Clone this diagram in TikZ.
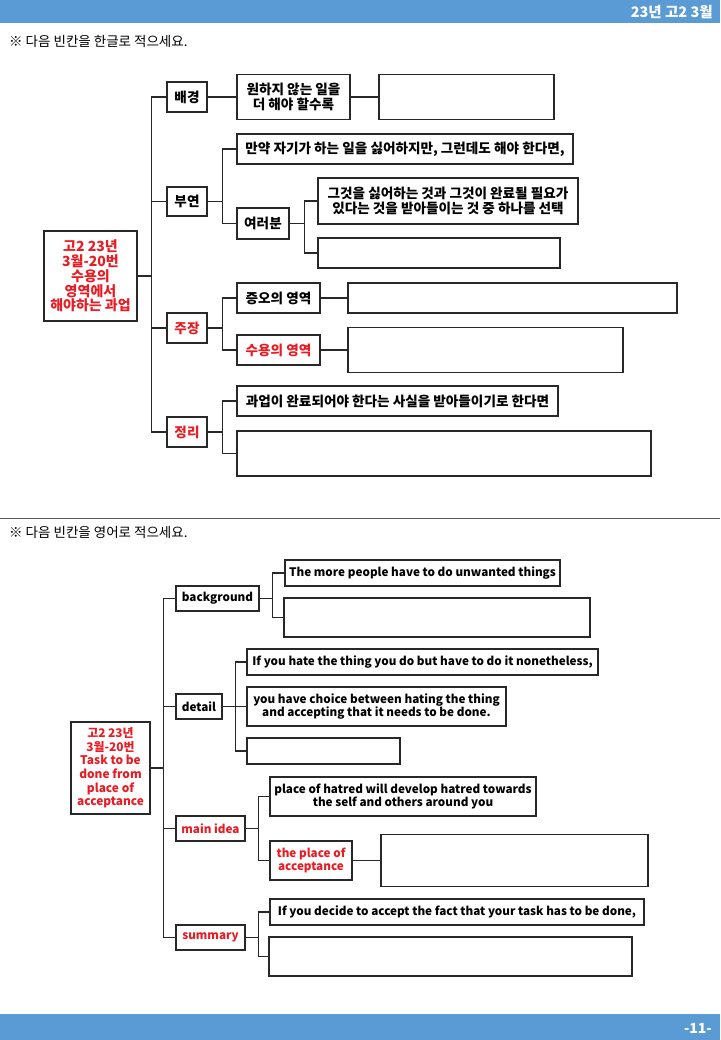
\documentclass[tikz,border=0pt]{standalone}
\usepackage{fontspec}
\setmainfont{Noto Sans CJK KR}
\definecolor{hdr}{RGB}{91,155,213}
\definecolor{myred}{RGB}{232,28,36}
\definecolor{lc}{RGB}{40,40,40}
\tikzset{
  bx/.style={draw=lc, line width=1.3pt, rectangle, inner sep=0pt, align=center},
  ktx/.style={font=\bfseries\fontsize{13.6}{15.5}\selectfont},
  etx/.style={font=\bfseries\fontsize{11.7}{13.5}\selectfont},
  ln/.style={draw=lc, line width=1.3pt},
  red/.style={text=myred}
}
\begin{document}
\begin{tikzpicture}[x=1pt,y=-1pt]
\useasboundingbox (0,0) rectangle (720,1040);
% header / footer
\fill[hdr] (0,0) rectangle (720,23);
\node[anchor=east, text=white, font=\bfseries\fontsize{14.5}{14.5}\selectfont, inner sep=0pt] (hd) at (713,12) {23년 고2 3월};
\fill[hdr] (0,1014) rectangle (720,1040);
\node[anchor=east, text=white, font=\bfseries\fontsize{14}{14}\selectfont, inner sep=0pt] (ft) at (712,1028) {-11-};
\node[anchor=west, inner sep=0pt, font=\fontsize{13.5}{14}\selectfont] (ins1) at (9,41) {※ 다음 빈칸을 한글로 적으세요.};
\draw[gray!70!black, line width=1pt] (0,518) -- (720,518);
\node[anchor=west, inner sep=0pt, font=\fontsize{13.5}{14}\selectfont] (ins2) at (9,532) {※ 다음 빈칸을 영어로 적으세요.};

% ===== top diagram =====
\begin{scope}[ktx]
\node[bx, red, minimum width=93, minimum height=90, font=\bfseries\fontsize{14}{14.8}\selectfont] (r1) at (90.5,276) {고2 23년\\3월-20번\\수용의\\영역에서\\해야하는 과업};
\node[bx, minimum width=40, minimum height=30] (bg) at (187,97) {배경};
\node[bx, minimum width=40, minimum height=29] (bu) at (187,201.5) {부연};
\node[bx, red, minimum width=40, minimum height=30] (ju) at (187,328) {주장};
\node[bx, red, minimum width=40, minimum height=30] (jr) at (187,432) {정리};
\node[bx, minimum width=113, minimum height=45] (wh) at (293.5,97) {원하지 않는 일을\\더 해야 할수록};
\node[bx, minimum width=175, minimum height=45] (whb) at (466.5,97) {};
\node[bx, minimum width=336, minimum height=30] (man) at (405,149) {만약 자기가 하는 일을 싫어하지만, 그런데도 해야 한다면,};
\node[bx, minimum width=52, minimum height=31] (yr) at (263,223.5) {여러분};
\node[bx, minimum width=260, minimum height=46] (gg) at (448,201) {그것을 싫어하는 것과 그것이 완료될 필요가\\있다는 것을 받아들이는 것 중 하나를 선택};
\node[bx, minimum width=242, minimum height=30] (ggb) at (439,253) {};
\node[bx, minimum width=83, minimum height=30] (jo) at (278.5,298) {증오의 영역};
\node[bx, minimum width=329, minimum height=30] (job) at (512.5,298) {};
\node[bx, red, minimum width=83, minimum height=30] (su) at (278.5,350) {수용의 영역};
\node[bx, minimum width=275, minimum height=45] (sub) at (485.5,350) {};
\node[bx, minimum width=321, minimum height=30] (gw) at (397.5,401) {과업이 완료되어야 한다는 사실을 받아들이기로 한다면};
\node[bx, minimum width=414, minimum height=45] (gwb) at (444,453.5) {};
\end{scope}
\foreach \c in {bg,bu,ju,jr} \draw[ln] (r1.east) -- ++(14,0) |- (\c.west);
\draw[ln] (bg.east) -- (wh.west);
\draw[ln] (wh.east) -- (whb.west);
\foreach \c in {man,yr} \draw[ln] (bu.east) -- ++(15,0) |- (\c.west);
\foreach \c in {gg,ggb} \draw[ln] (yr.east) -- ++(15,0) |- (\c.west);
\foreach \c in {jo,su} \draw[ln] (ju.east) -- ++(15,0) |- (\c.west);
\draw[ln] (jo.east) -- (job.west);
\draw[ln] (su.east) -- (sub.west);
\foreach \c in {gw,gwb} \draw[ln] (jr.east) -- ++(15,0) |- (\c.west);

% ===== bottom diagram =====
\begin{scope}[etx]
\node[bx, red, minimum width=79, minimum height=92, font=\bfseries\fontsize{11.9}{13.6}\selectfont] (r2) at (110.5,768) {고2 23년\\3월-20번\\Task to be\\done from\\place of\\acceptance};
\node[bx, minimum width=83, minimum height=25] (bk) at (217.5,598.5) {background};
\node[bx, minimum width=46, minimum height=25] (dt) at (199,706.5) {detail};
\node[bx, red, minimum width=69, minimum height=25] (mi) at (210.5,828.5) {main idea};
\node[bx, red, minimum width=69, minimum height=25] (sm) at (210.5,937.5) {summary};
\node[bx, minimum width=275, minimum height=26] (tm) at (422.5,573) {The more people have to do unwanted things};
\node[bx, minimum width=306, minimum height=39] (tmb) at (437,617.5) {};
\node[bx, minimum width=351, minimum height=26] (ih) at (422.5,662) {If you hate the thing you do but have to do it nonetheless,};
\node[bx, minimum width=259, minimum height=39] (yc) at (376.5,706.5) {you have choice between hating the thing\\and accepting that it needs to be done.};
\node[bx, minimum width=153, minimum height=26] (dtb) at (323.5,751) {};
\node[bx, minimum width=266, minimum height=39] (ph) at (403,796.5) {place of hatred will develop hatred towards\\the self and others around you};
\node[bx, red, minimum width=82, minimum height=39] (pa) at (311,860.5) {the place of\\acceptance};
\node[bx, minimum width=267, minimum height=52] (pab) at (514.5,860.5) {};
\node[bx, minimum width=374, minimum height=26] (id) at (457,912) {If you decide to accept the fact that your task has to be done,};
\node[bx, minimum width=363, minimum height=39] (idb) at (450.5,956.5) {};
\end{scope}
\foreach \c in {bk,dt,mi,sm} \draw[ln] (r2.east) -- ++(13,0) |- (\c.west);
\foreach \c in {tm,tmb} \draw[ln] (bk.east) -- ++(13,0) |- (\c.west);
\foreach \c in {ih,yc,dtb} \draw[ln] (dt.east) -- ++(13,0) |- (\c.west);
\foreach \c in {ph,pa} \draw[ln] (mi.east) -- ++(13,0) |- (\c.west);
\draw[ln] (pa.east) -- (pab.west);
\foreach \c in {id,idb} \draw[ln] (sm.east) -- ++(13,0) |- (\c.west);
\end{tikzpicture}
\end{document}
